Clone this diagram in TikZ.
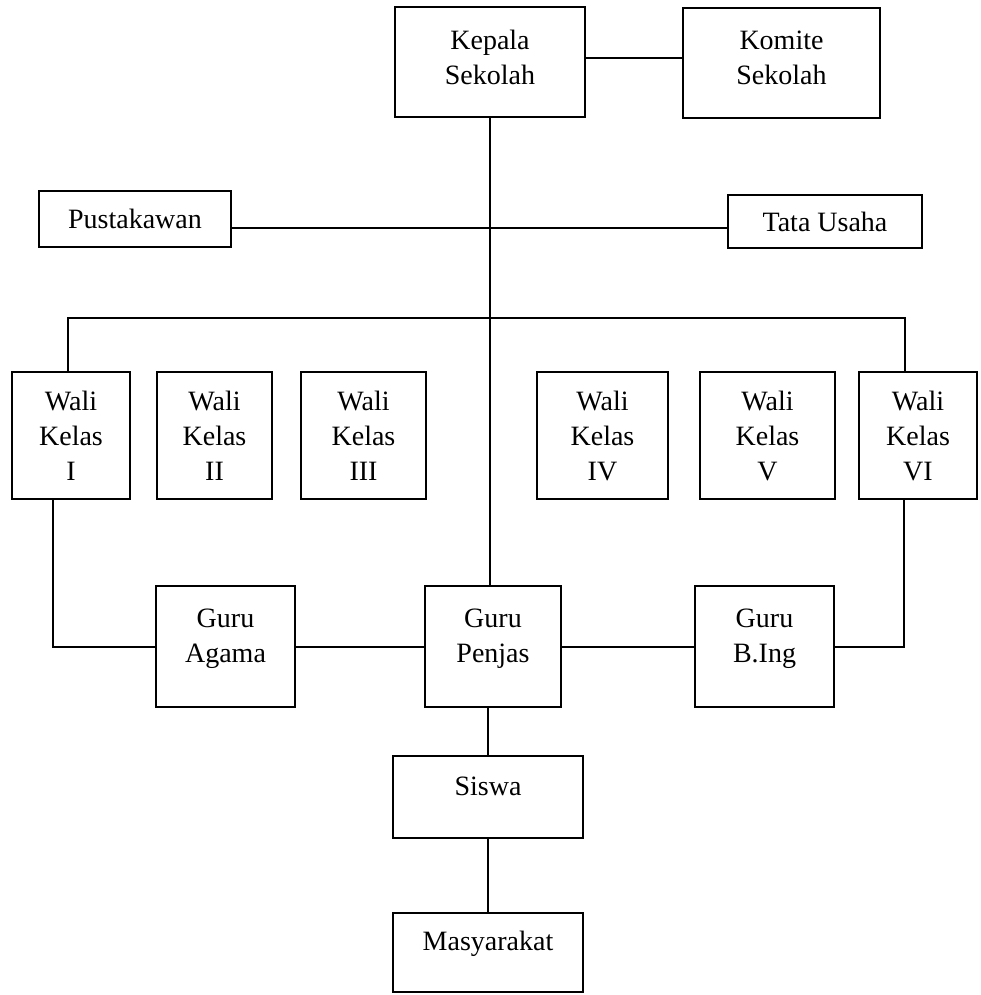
\documentclass[tikz,border=0pt]{standalone}
\usepackage{fontspec}
\setmainfont{Liberation Serif}
\usetikzlibrary{positioning}

\begin{document}
\begin{tikzpicture}[
    x=1pt, y=-1pt,
    box/.style={draw, line width=2pt, inner sep=0pt, align=center, font=\fontsize{28}{35}\selectfont},
    link/.style={line width=2pt}
]
    \useasboundingbox (0,0) rectangle (980,995);

    % Top boxes
    \node[box, minimum width=190pt, minimum height=110pt, text depth=10pt] (kepala) at (490,62) {Kepala\\Sekolah};
    \node[box, minimum width=197pt, minimum height=110pt, text depth=10pt] (komite) at (781.5,63) {Komite\\Sekolah};

    % Staff boxes
    \node[box, minimum width=192pt, minimum height=56pt] (pustakawan) at (135,219) {Pustakawan};
    \node[box, minimum width=194pt, minimum height=53pt] (tatausaha) at (825,221.5) {Tata Usaha};

    % Wali Kelas boxes
    \node[box, minimum width=118pt, minimum height=127pt] (wali1) at (71,435.5) {Wali\\Kelas\\I};
    \node[box, minimum width=115pt, minimum height=127pt] (wali2) at (214.5,435.5) {Wali\\Kelas\\II};
    \node[box, minimum width=125pt, minimum height=127pt] (wali3) at (363.5,435.5) {Wali\\Kelas\\III};
    \node[box, minimum width=131pt, minimum height=127pt] (wali4) at (602.5,435.5) {Wali\\Kelas\\IV};
    \node[box, minimum width=135pt, minimum height=127pt] (wali5) at (767.5,435.5) {Wali\\Kelas\\V};
    \node[box, minimum width=118pt, minimum height=127pt] (wali6) at (918,435.5) {Wali\\Kelas\\VI};

    % Guru boxes
    \node[box, minimum width=139pt, minimum height=121pt, text depth=22pt] (agama) at (225.5,646.5) {Guru\\Agama};
    \node[box, minimum width=136pt, minimum height=121pt, text depth=22pt] (penjas) at (493,646.5) {Guru\\Penjas};
    \node[box, minimum width=139pt, minimum height=121pt, text depth=22pt] (bing) at (764.5,646.5) {Guru\\B.Ing};

    % Bottom boxes
    \node[box, minimum width=190pt, minimum height=82pt, text height=20pt, text depth=24pt] (siswa) at (488,797) {Siswa};
    \node[box, minimum width=190pt, minimum height=79pt, text height=20pt, text depth=24pt] (masyarakat) at (488,952.5) {Masyarakat};

    % Lines
    \draw[link] ([yshift=4pt]kepala.east) -- ([yshift=4pt]kepala.east -| komite.west);
    \draw[link] (kepala.south) -- (kepala.south |- penjas.north);
    \draw[link] ([yshift=-9pt]pustakawan.east) -- ([yshift=-9pt]pustakawan.east -| tatausaha.west);
    \draw[link] ([xshift=-3pt]wali1.north) -- ++(0,-53) -| ([xshift=-13pt]wali6.north);
    \draw[link] ([xshift=-18pt]wali1.south) |- (agama.west);
    \draw[link] ([xshift=-14pt]wali6.south) |- (bing.east);
    \draw[link] (agama) -- (penjas);
    \draw[link] (penjas) -- (bing);
    \draw[link] (penjas.south -| siswa.north) -- (siswa.north);
    \draw[link] (siswa) -- (masyarakat);
\end{tikzpicture}
\end{document}
